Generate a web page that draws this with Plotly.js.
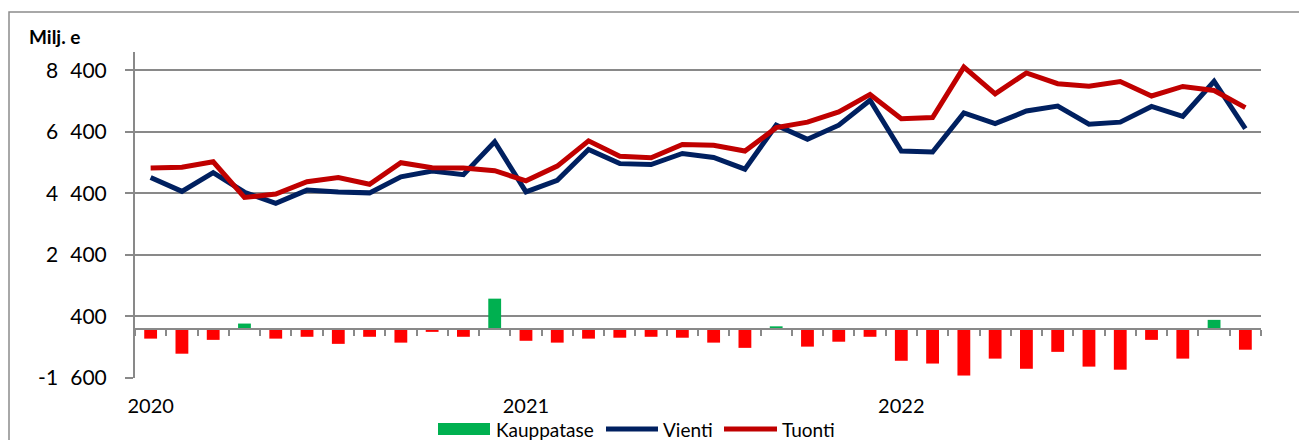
<!DOCTYPE html>
<html>
<head>
<meta charset="utf-8">
<script src="https://cdn.plot.ly/plotly-3.0.1.min.js"></script>
<style>
  html, body { margin: 0; padding: 0; background: #ffffff; }
  #chart { width: 1299px; height: 440px; }
</style>
</head>
<body>
<div id="chart"></div>
<script>
// ---- Data ----
const months = [
  '2020-01','2020-02','2020-03','2020-04','2020-05','2020-06','2020-07','2020-08','2020-09','2020-10','2020-11','2020-12',
  '2021-01','2021-02','2021-03','2021-04','2021-05','2021-06','2021-07','2021-08','2021-09','2021-10','2021-11','2021-12',
  '2022-01','2022-02','2022-03','2022-04','2022-05','2022-06','2022-07','2022-08','2022-09','2022-10','2022-11','2022-12'
];
const vienti = [4920, 4470, 5080, 4440, 4080, 4510, 4450, 4420, 4940, 5130, 5010, 6080,
                4450, 4830, 5830, 5370, 5340, 5700, 5570, 5190, 6620, 6160, 6620, 7430,
                5780, 5750, 7020, 6670, 7080, 7240, 6650, 6720, 7230, 6910, 8050, 6510];
const tuonti = [5230, 5250, 5430, 4270, 4380, 4780, 4920, 4700, 5400, 5240, 5230, 5140,
                4810, 5290, 6110, 5610, 5560, 5990, 5970, 5780, 6540, 6720, 7050, 7620,
                6830, 6870, 8510, 7640, 8320, 7970, 7890, 8040, 7570, 7880, 7750, 7190];
const kauppatase = [-320, -810, -360, 170, -320, -260, -490, -260, -450, -100, -260, 980,
                    -390, -450, -320, -290, -260, -290, -450, -620, 80, -580, -420, -260,
                    -1040, -1130, -1520, -970, -1300, -750, -1230, -1330, -360, -970, 290, -680];
const yearTickVals = ['2020-01', '2021-01', '2022-01'];
const yearTickText = ['2020', '2021', '2022'];
const yTickVals = [-1600, 400, 2400, 4400, 6400, 8400];
const yTickText = ['-1\u2007600', '400', '2\u2007400', '4\u2007400', '6\u2007400', '8\u2007400'];
const seriesNames = ['Kauppatase', 'Vienti', 'Tuonti'];
const unitLabel = 'Milj. e';

// ---- Styles ----
const FONT = 'Lato, "Open Sans", "DejaVu Sans", sans-serif';
const GRID = '#898989';
const C_POS = '#00B050', C_NEG = '#FF0000', C_VIENTI = '#002060', C_TUONTI = '#C00000';

// layout geometry (pixels)
const W = 1299, H = 440, ML = 135, MR = 38, MT = 52, MB = 62;
const PW = W - ML - MR, PH = H - MT - MB;
const px = x => (x - ML) / PW;          // pixel x -> paper
const py = y => (H - MB - y) / PH;      // pixel y -> paper

const barColors = kauppatase.map(v => v >= 0 ? C_POS : C_NEG);

const traces = [
  { type: 'bar', name: seriesNames[0], x: months, y: kauppatase, xaxis: 'x2', yaxis: 'y',
    marker: { color: barColors, line: { width: 0 } }, showlegend: false, hoverinfo: 'x+y' },
  { type: 'scatter', mode: 'lines', name: seriesNames[1], x: months, y: vienti,
    line: { color: C_VIENTI, width: 5, shape: 'linear' }, showlegend: false },
  { type: 'scatter', mode: 'lines', name: seriesNames[2], x: months, y: tuonti,
    line: { color: C_TUONTI, width: 5, shape: 'linear' }, showlegend: false }
];

const yMin = -1600, yMax = 9000;
const zeroPos = (0 - yMin) / (yMax - yMin);

// custom legend (pixel positions converted to paper)
const legY = 429;
const shapes = [
  // outer chart frame
  { type: 'rect', xref: 'paper', yref: 'paper', x0: px(9), x1: px(1320), y0: py(460), y1: py(12),
    line: { color: '#8c8c8c', width: 1.5 }, fillcolor: 'rgba(0,0,0,0)', layer: 'below' },
  // legend symbols
  { type: 'rect', xref: 'paper', yref: 'paper', x0: px(438), x1: px(490), y0: py(435), y1: py(423),
    line: { width: 0 }, fillcolor: C_POS },
  { type: 'line', xref: 'paper', yref: 'paper', x0: px(606), x1: px(658), y0: py(legY), y1: py(legY),
    line: { color: C_VIENTI, width: 5 } },
  { type: 'line', xref: 'paper', yref: 'paper', x0: px(724), x1: px(777), y0: py(legY), y1: py(legY),
    line: { color: C_TUONTI, width: 5 } }
];

const legText = (txt, x) => ({
  text: txt, xref: 'paper', yref: 'paper', x: px(x), y: py(legY), xanchor: 'left', yanchor: 'middle',
  showarrow: false, font: { family: FONT, size: 19, color: '#000000' }
});

const annotations = [
  { text: '<b>' + unitLabel + '</b>', xref: 'paper', yref: 'paper', x: px(27), y: py(36.5),
    xanchor: 'left', yanchor: 'middle', showarrow: false,
    font: { family: FONT, size: 19, color: '#000000' } },
  legText(seriesNames[0], 494),
  legText(seriesNames[1], 661),
  legText(seriesNames[2], 780)
];

const layout = {
  width: W, height: H,
  margin: { l: ML, r: MR, t: MT, b: MB, pad: 0 },
  paper_bgcolor: '#ffffff', plot_bgcolor: '#ffffff',
  font: { family: FONT, size: 20, color: '#000000' },
  showlegend: false,
  bargap: 0.59,
  xaxis: {
    type: 'category', categoryorder: 'array', categoryarray: months,
    range: [-0.5, months.length - 0.5],
    tickmode: 'array', tickvals: yearTickVals, ticktext: yearTickText,
    ticks: '', showline: false, showgrid: false, zeroline: false,
    ticklabelstandoff: 14,
    tickfont: { family: FONT, size: 20, color: '#000000' }
  },
  xaxis2: {
    type: 'category', categoryorder: 'array', categoryarray: months,
    range: [-0.5, months.length - 0.5],
    overlaying: 'x', anchor: 'free', position: zeroPos, side: 'bottom',
    showline: true, linecolor: GRID, linewidth: 2,
    ticks: 'outside', tickson: 'boundaries', ticklen: 6, tickwidth: 2, tickcolor: GRID,
    showticklabels: false, showgrid: false, zeroline: false
  },
  yaxis: {
    range: [yMin, yMax],
    tickmode: 'array', tickvals: yTickVals, ticktext: yTickText,
    ticks: 'outside', ticklen: 8, tickwidth: 2, tickcolor: GRID,
    showline: true, linecolor: GRID, linewidth: 2,
    showgrid: true, gridcolor: GRID, gridwidth: 2,
    zeroline: false,
    ticklabelstandoff: 14,
    tickfont: { family: FONT, size: 21, color: '#000000' }
  },
  shapes: shapes,
  annotations: annotations
};

Plotly.newPlot('chart', traces, layout, { displayModeBar: false, staticPlot: true });
</script>
</body>
</html>
